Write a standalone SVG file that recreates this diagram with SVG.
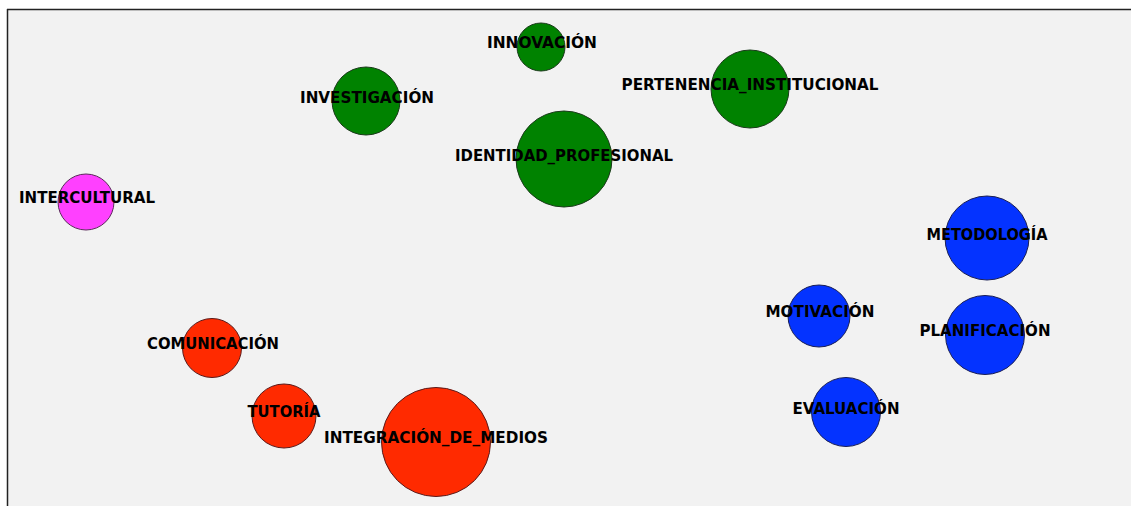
<svg xmlns="http://www.w3.org/2000/svg" width="1132" height="506" viewBox="0 0 1132 506">
<style>
.lbl{font-family:"DejaVu Sans","Liberation Sans",sans-serif;font-weight:bold;font-size:16px;fill:#000;text-anchor:middle}
.g{fill:#008200;stroke:#1a3a1a;stroke-width:1}
.b{fill:#0433ff;stroke:#1a1f55;stroke-width:1}
.r{fill:#ff2a00;stroke:#5a1a1a;stroke-width:1}
.m{fill:#ff40ff;stroke:#5a2a5a;stroke-width:1}
</style>
<rect x="0" y="0" width="1132" height="506" fill="#ffffff"/>
<rect x="7" y="9" width="1124" height="500" fill="#f2f2f2"/>
<line x1="7" y1="9.5" x2="1131" y2="9.5" stroke="#222" stroke-width="1.5"/>
<line x1="7.5" y1="9" x2="7.5" y2="506" stroke="#222" stroke-width="1.5"/>
<g id="connectors"></g>
<g id="n-intercultural"><circle class="m" cx="86" cy="202" r="28"/><text class="lbl" x="87" y="203" textLength="136" lengthAdjust="spacingAndGlyphs">INTERCULTURAL</text></g>
<g id="n-investigacion"><circle class="g" cx="366" cy="101" r="34"/><text class="lbl" x="367" y="103" textLength="134" lengthAdjust="spacingAndGlyphs">INVESTIGACIÓN</text></g>
<g id="n-innovacion"><circle class="g" cx="541" cy="47" r="24"/><text class="lbl" x="542" y="48" textLength="110" lengthAdjust="spacingAndGlyphs">INNOVACIÓN</text></g>
<g id="n-pertenencia"><circle class="g" cx="750" cy="89" r="39"/><text class="lbl" x="750" y="90" textLength="257" lengthAdjust="spacingAndGlyphs">PERTENENCIA_INSTITUCIONAL</text></g>
<g id="n-identidad"><circle class="g" cx="564" cy="159" r="48"/><text class="lbl" x="564" y="161" textLength="218" lengthAdjust="spacingAndGlyphs">IDENTIDAD_PROFESIONAL</text></g>
<g id="n-metodologia"><circle class="b" cx="987" cy="238" r="42"/><text class="lbl" x="987" y="240" textLength="121" lengthAdjust="spacingAndGlyphs">METODOLOGÍA</text></g>
<g id="n-motivacion"><circle class="b" cx="819" cy="316" r="31"/><text class="lbl" x="820" y="317" textLength="109" lengthAdjust="spacingAndGlyphs">MOTIVACIÓN</text></g>
<g id="n-planificacion"><circle class="b" cx="985" cy="335" r="39.5"/><text class="lbl" x="985" y="336" textLength="131" lengthAdjust="spacingAndGlyphs">PLANIFICACIÓN</text></g>
<g id="n-evaluacion"><circle class="b" cx="846" cy="412" r="34.5"/><text class="lbl" x="846" y="414" textLength="107" lengthAdjust="spacingAndGlyphs">EVALUACIÓN</text></g>
<g id="n-comunicacion"><circle class="r" cx="212" cy="348" r="29.5"/><text class="lbl" x="213" y="349" textLength="132" lengthAdjust="spacingAndGlyphs">COMUNICACIÓN</text></g>
<g id="n-tutoria"><circle class="r" cx="284" cy="416" r="32"/><text class="lbl" x="284" y="417" textLength="73" lengthAdjust="spacingAndGlyphs">TUTORÍA</text></g>
<g id="n-integracion"><circle class="r" cx="436" cy="442" r="54.5"/><text class="lbl" x="436" y="443" textLength="224" lengthAdjust="spacingAndGlyphs">INTEGRACIÓN_DE_MEDIOS</text></g>
</svg>
